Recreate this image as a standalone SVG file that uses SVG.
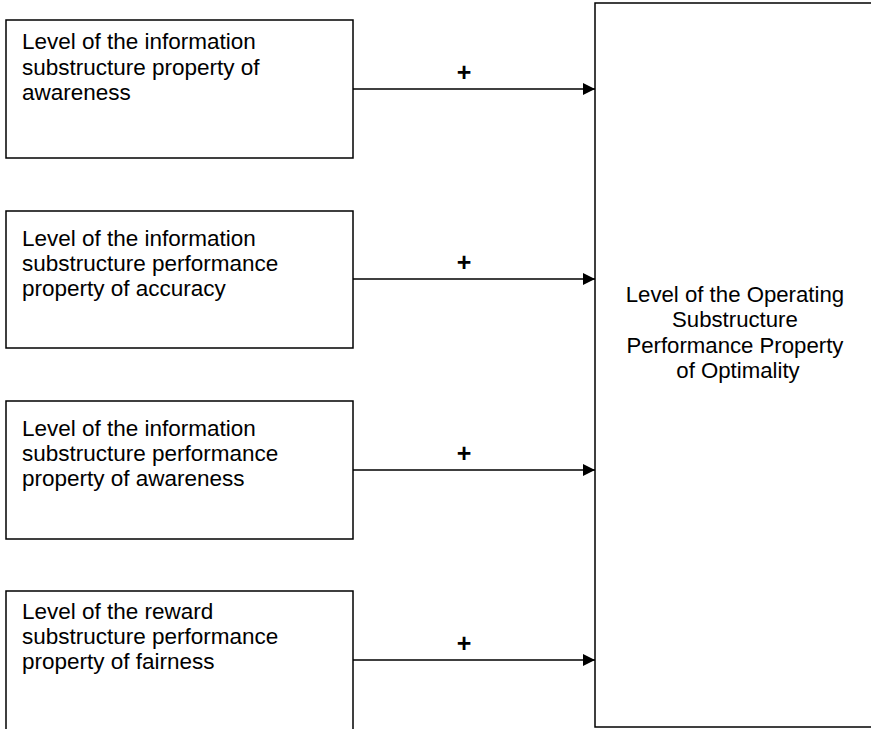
<svg xmlns="http://www.w3.org/2000/svg" width="871" height="729" viewBox="0 0 871 729">
  <style>
    .box { fill: #ffffff; stroke: #000000; stroke-width: 1.5; }
    .label { font-family: "Liberation Sans", Arial, Helvetica, sans-serif; font-size: 22.5px; fill: #000000; }
    .center { text-anchor: middle; font-size: 22.2px; }
    .sign { font-family: "Liberation Sans", Arial, Helvetica, sans-serif; font-size: 25px; font-weight: bold; text-anchor: middle; fill: #000000; }
    .link { stroke: #000000; stroke-width: 1.3; fill: none; }
  </style>
  <defs>
    <marker id="arrow" viewBox="0 0 12 12" refX="12" refY="6" markerWidth="12" markerHeight="12" markerUnits="userSpaceOnUse" orient="auto">
      <path d="M0,0 L12,6 L0,12 Z" fill="#000000"/>
    </marker>
  </defs>
  <rect width="871" height="729" fill="#ffffff"/>

  <!-- outcome node -->
  <g id="optimality">
    <rect class="box" x="595" y="3" width="290" height="724"/>
    <text class="label center" x="738">
      <tspan x="738" y="302">Level of the Operating</tspan>
      <tspan x="738" y="327">Substructure</tspan>
      <tspan x="738" y="353">Performance Property</tspan>
      <tspan x="738" y="378">of Optimality</tspan>
    </text>
  </g>

  <!-- input nodes -->
  <g id="info-awareness-property">
    <rect class="box" x="6" y="20" width="347" height="138"/>
    <text class="label">
      <tspan x="22" y="49">Level of the information</tspan>
      <tspan x="22" y="75">substructure property of</tspan>
      <tspan x="22" y="100">awareness</tspan>
    </text>
  </g>

  <g id="info-accuracy">
    <rect class="box" x="6" y="211" width="347" height="137"/>
    <text class="label">
      <tspan x="22" y="246">Level of the information</tspan>
      <tspan x="22" y="271">substructure performance</tspan>
      <tspan x="22" y="296">property of accuracy</tspan>
    </text>
  </g>

  <g id="info-awareness-performance">
    <rect class="box" x="6" y="401" width="347" height="138"/>
    <text class="label">
      <tspan x="22" y="436">Level of the information</tspan>
      <tspan x="22" y="461">substructure performance</tspan>
      <tspan x="22" y="486">property of awareness</tspan>
    </text>
  </g>

  <g id="reward-fairness">
    <rect class="box" x="6" y="591" width="347" height="150"/>
    <text class="label">
      <tspan x="22" y="619">Level of the reward</tspan>
      <tspan x="22" y="644">substructure performance</tspan>
      <tspan x="22" y="669">property of fairness</tspan>
    </text>
  </g>

  <!-- connectors -->
  <g id="connectors">
    <line class="link" x1="353" y1="89" x2="595" y2="89" marker-end="url(#arrow)"/>
    <line class="link" x1="353" y1="279" x2="595" y2="279" marker-end="url(#arrow)"/>
    <line class="link" x1="353" y1="470" x2="595" y2="470" marker-end="url(#arrow)"/>
    <line class="link" x1="353" y1="660" x2="595" y2="660" marker-end="url(#arrow)"/>
    <text class="sign" x="464" y="81">+</text>
    <text class="sign" x="464" y="271">+</text>
    <text class="sign" x="464" y="462">+</text>
    <text class="sign" x="464" y="652">+</text>
  </g>
</svg>
